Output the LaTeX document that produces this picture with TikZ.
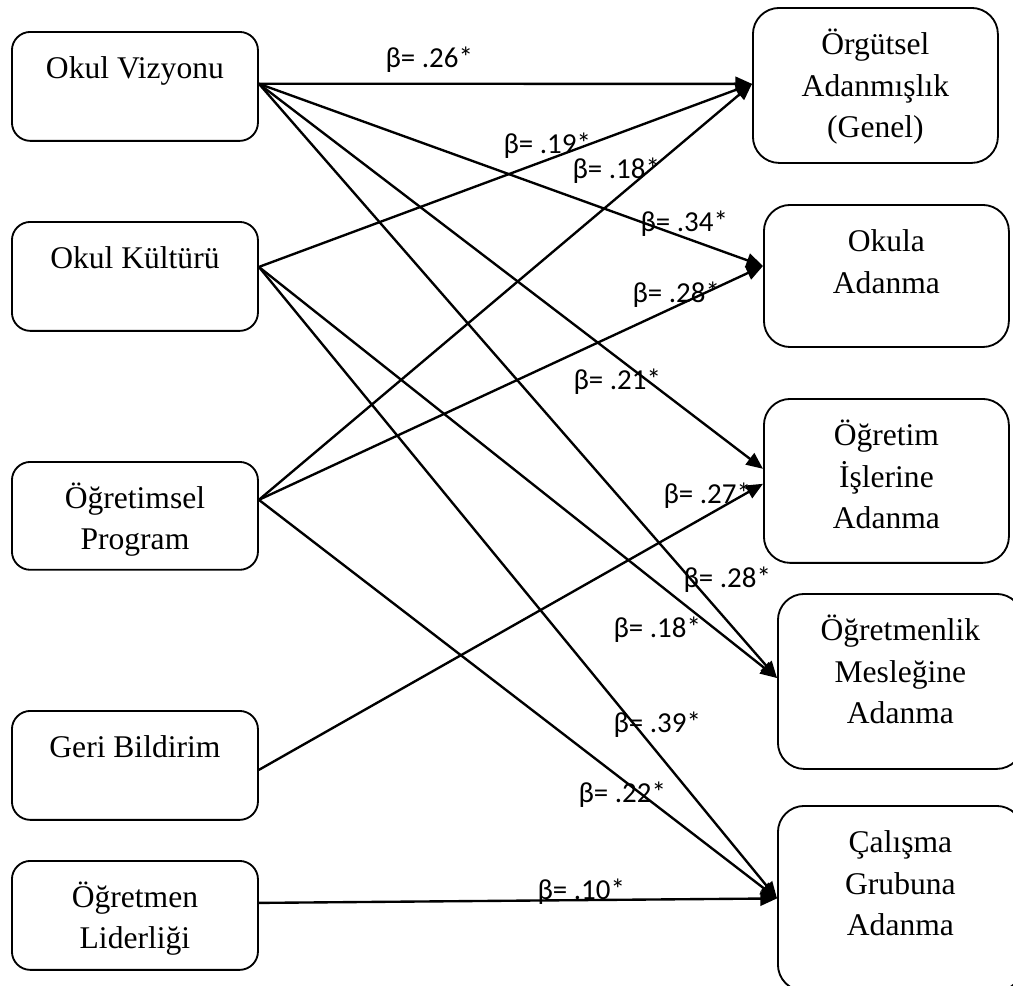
\documentclass[tikz,border=0pt]{standalone}
\usepackage{fontspec}
\setmainfont{Liberation Serif}
\newfontfamily\calibri{Carlito}
\usetikzlibrary{arrows.meta}
% boxes: text sits at the top, height given as argument
\tikzset{
  lbox/.style={draw, line width=0.7pt, rounded corners=7pt, inner sep=0pt, anchor=north west,
    execute at begin node={\begin{minipage}[c][#1][t]{93.5pt}\centering\rule{0pt}{17.6pt}},
    execute at end node={\end{minipage}}},
  rbox/.style={draw, line width=0.7pt, rounded corners=10pt, inner sep=0pt, anchor=north west,
    execute at begin node={\begin{minipage}[c][#1][t]{93.1pt}\centering\rule{0pt}{17.8pt}},
    execute at end node={\end{minipage}}},
  beta/.style={font=\calibri\fontsize{11}{13}\selectfont, inner sep=0pt, anchor=base west},
}
\tikzstyle{path} = [->, line width=0.9pt]

\begin{document}
\begin{tikzpicture}[
    x=0.38pt, y=-0.38pt,
    >={Triangle[length=6.3pt,width=5.4pt]},
    font=\fontsize{12}{15.8}\selectfont,
  ]
    \useasboundingbox (0,0) rectangle (1013,985);

    % predictors
    \node[lbox=41.4pt] (vision)   at (11,31)  {Okul Vizyonu};
    \node[lbox=41.4pt] (culture)  at (11,221) {Okul Kültürü};
    \node[lbox=41pt]   (program)  at (11,461) {Öğretimsel\\Program};
    \node[lbox=41.4pt] (feedback) at (11,710) {Geri Bildirim};
    \node[lbox=41.4pt] (leader)   at (11,860) {Öğretmen\\Liderliği};

    % outcomes
    \node[rbox=58.9pt] (general)    at (752,7)   {Örgütsel\\Adanmışlık\\(Genel)};
    \node[rbox=54pt]   (school)     at (763,204) {Okula\\Adanma};
    \node[rbox=62.3pt] (teaching)   at (763,398) {Öğretim\\İşlerine\\Adanma};
    \node[rbox=66.5pt] (profession) at (777,593) {Öğretmenlik\\Mesleğine\\Adanma};
    \node[rbox=70.3pt] (group)      at (777,805) {Çalışma\\Grubuna\\Adanma};

    \draw [path] ([yshift=1pt]vision.east) -- ([yshift=0.6pt]general.west);
    \draw [path] ([yshift=1pt]vision.east) -- ([yshift=3.8pt]school.west);
    \draw [path] ([yshift=1pt]vision.east) -- ([yshift=4.6pt]teaching.west);
    \draw [path] ([yshift=1pt]vision.east) -- ([yshift=1.3pt]profession.west);

    \draw [path] ([yshift=3.6pt]culture.east) -- ([yshift=0.6pt]general.west);
    \draw [path] ([yshift=3.6pt]culture.east) -- ([yshift=1.3pt]profession.west);
    \draw [path] ([yshift=3.6pt]culture.east) -- (group.west);

    \draw [path] ([yshift=6.1pt]program.east) -- ([yshift=0.6pt]general.west);
    \draw [path] ([yshift=6.1pt]program.east) -- ([yshift=3.8pt]school.west);
    \draw [path] ([yshift=6.1pt]program.east) -- (group.west);

    \draw [path] ([yshift=-1.7pt]feedback.east) -- ([yshift=-1.1pt]teaching.west);
    \draw [path] ([yshift=4.75pt]leader.east) -- (group.west);

    % coefficients
    \node[beta] (b26)  at (385,67)  {β= .26*};
    \node[beta] (b19)  at (503,153) {β= .19*};
    \node[beta] (b18a) at (572,178) {β= .18*};
    \node[beta] (b34)  at (640,231) {β= .34*};
    \node[beta] (b28a) at (632,302) {β= .28*};
    \node[beta] (b21)  at (573,389) {β= .21*};
    \node[beta] (b27)  at (663,503) {β= .27*};
    \node[beta] (b28b) at (683,587) {β= .28*};
    \node[beta] (b18b) at (613,637) {β= .18*};
    \node[beta] (b39)  at (613,732) {β= .39*};
    \node[beta] (b22)  at (578,802) {β= .22*};
    \node[beta] (b10)  at (537,899) {β= .10*};
\end{tikzpicture}
\end{document}
